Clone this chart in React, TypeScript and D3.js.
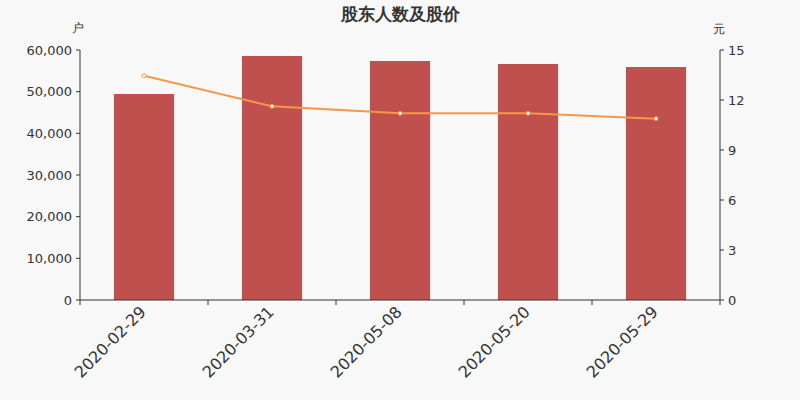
import * as d3 from "d3";

const dates = ["2020-02-29", "2020-03-31", "2020-05-08", "2020-05-20", "2020-05-29"];
const holders = [49440, 58560, 57360, 56640, 55920];
const prices = [13.46, 11.62, 11.2, 11.2, 10.88];
const leftTicks = [0, 10000, 20000, 30000, 40000, 50000, 60000];
const rightTicks = [0, 3, 6, 9, 12, 15];

const W = 800;
const H = 400;
const margin = { top: 50, right: 80, bottom: 100, left: 80 };
const font = "'DejaVu Sans', sans-serif";
const axisColor = "#333";
const textColor = "#333";

export default function App() {
  const innerW = W - margin.left - margin.right;
  const innerH = H - margin.top - margin.bottom;

  const x = d3.scaleBand<string>().domain(dates).range([0, innerW]).paddingInner(0).paddingOuter(0);
  const yL = d3.scaleLinear().domain([0, 60000]).range([innerH, 0]);
  const yR = d3.scaleLinear().domain([0, 15]).range([innerH, 0]);
  const barW = x.bandwidth() * 0.47;
  const fmt = d3.format(",");

  const line = d3
    .line<number>()
    .x((_, i) => x(dates[i])! + x.bandwidth() / 2)
    .y((d) => yR(d));

  const bandEdges = [...dates.map((d) => x(d)!), innerW];

  return (
    <svg
      width={W}
      height={H}
      style={{ position: "absolute", left: 0, top: 0, background: "#f8f8f8" }}
      fontFamily={font}
    >
      <rect width={W} height={H} fill="#f8f8f8" />
      <text x={W / 2} y={20} textAnchor="middle" fontSize={17} fontWeight="bold" fill="#333">
        股东人数及股价
      </text>
      <text x={78} y={32} textAnchor="middle" fontSize={12} fill={textColor}>户</text>
      <text x={719} y={33} textAnchor="middle" fontSize={12} fill={textColor}>元</text>

      <g transform={`translate(${margin.left},${margin.top})`}>
        {dates.map((d, i) => (
          <rect
            key={d}
            x={x(d)! + (x.bandwidth() - barW) / 2}
            y={yL(holders[i])}
            width={barW}
            height={innerH - yL(holders[i])}
            fill="#c0504d"
          />
        ))}

        <path d={line(prices)!} fill="none" stroke="#f79646" strokeWidth={2} />
        {prices.map((p, i) => (
          <circle
            key={i}
            cx={x(dates[i])! + x.bandwidth() / 2}
            cy={yR(p)}
            r={2}
            fill="#fff"
            stroke="#f79646"
            strokeWidth={1}
          />
        ))}

        {/* left axis */}
        <line x1={0} x2={0} y1={0} y2={innerH} stroke={axisColor} />
        {leftTicks.map((t) => (
          <g key={t} transform={`translate(0,${yL(t)})`}>
            <line x1={-4} x2={0} stroke={axisColor} />
            <text x={-8} dy="0.35em" textAnchor="end" fontSize={13} fill={textColor}>
              {fmt(t)}
            </text>
          </g>
        ))}

        {/* right axis */}
        <line x1={innerW} x2={innerW} y1={0} y2={innerH} stroke={axisColor} />
        {rightTicks.map((t) => (
          <g key={t} transform={`translate(${innerW},${yR(t)})`}>
            <line x1={0} x2={4} stroke={axisColor} />
            <text x={8} dy="0.35em" textAnchor="start" fontSize={13} fill={textColor}>
              {t}
            </text>
          </g>
        ))}

        {/* bottom axis */}
        <line x1={0} x2={innerW} y1={innerH} y2={innerH} stroke={axisColor} />
        {bandEdges.map((e, i) => (
          <line key={i} x1={e} x2={e} y1={innerH} y2={innerH + 5} stroke={axisColor} />
        ))}
        {dates.map((d) => (
          <text
            key={d}
            transform={`translate(${x(d)! + x.bandwidth() / 2 - 1},${innerH + 9}) rotate(-45)`}
            textAnchor="end"
            dy="0.35em"
            fontSize={16}
            fill={textColor}
          >
            {d}
          </text>
        ))}
      </g>
    </svg>
  );
}
